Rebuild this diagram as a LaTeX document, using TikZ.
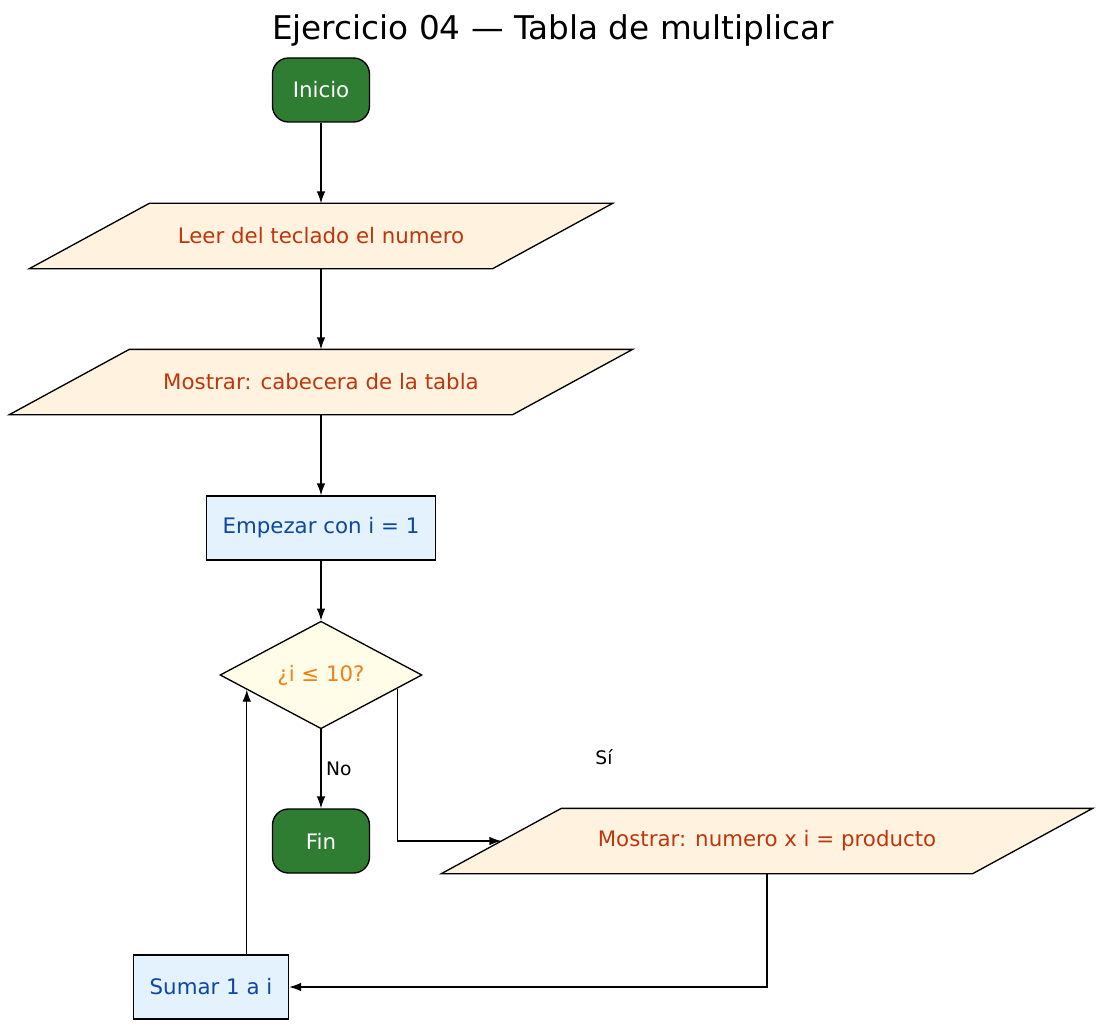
\documentclass[tikz,border=0pt]{standalone}
\usepackage{fontspec}
\setmainfont{DejaVu Sans}
\usetikzlibrary{shapes.geometric, calc, backgrounds, arrows.meta}
\definecolor{termfill}{HTML}{2E7D32}
\definecolor{iofill}{HTML}{FFF3E0}
\definecolor{iotext}{HTML}{BF360C}
\definecolor{procfill}{HTML}{E3F2FD}
\definecolor{proctext}{HTML}{0D47A1}
\definecolor{decfill}{HTML}{FFFDE7}
\definecolor{dectext}{HTML}{F57F17}
\tikzset{
  every path/.style={line width=1pt},
  term/.style={draw, rounded corners=12pt, fill=termfill, text=white, minimum width=72.75pt, minimum height=48pt, font=\fontsize{16}{19}\selectfont},
  io/.style={minimum height=48pt, inner sep=0pt, text=iotext, font=\fontsize{16}{19}\selectfont},
  proc/.style={draw, fill=procfill, text=proctext, minimum height=48pt, font=\fontsize{16}{19}\selectfont},
  dec/.style={draw, diamond, fill=decfill, text=dectext, minimum width=151.5pt, minimum height=48pt, inner sep=0pt, font=\fontsize{16}{19}\selectfont},
  flow/.style={-{Latex[length=9pt,width=6.5pt]}},
  lbl/.style={font=\fontsize{14}{17}\selectfont}
}
\newcommand{\parabox}[1]{%
  \begin{scope}[on background layer]
    \draw[fill=iofill] ($(#1.north west)+(60,0)$) -- ($(#1.north east)+(60,0)$)
      -- ($(#1.south east)+(-60,0)$) -- ($(#1.south west)+(-60,0)$) -- cycle;
  \end{scope}}
\begin{document}
\begin{tikzpicture}[x=0.75pt,y=0.75pt,yscale=-1,xscale=1]
  \useasboundingbox (0,0) rectangle (1107,1027);

  % Title
  \node[font=\fontsize{24.5}{29}\selectfont] (title) at (553,30) {Ejercicio 04 — Tabla de multiplicar};

  % Nodes
  \node[term] (inicio) at (321,90) {Inicio};
  \node[io, minimum width=346.5pt] (leer) at (321,236) {Leer del teclado el numero};
  \parabox{leer}
  \node[io, minimum width=376.5pt] (cabecera) at (321,382) {Mostrar: cabecera de la tabla};
  \parabox{cabecera}
  \node[proc, minimum width=171.75pt] (empezar) at (321,528) {Empezar con i = 1};
  \node[dec] (cond) at (321,675) {¿i ≤ 10?};
  \node[term] (fin) at (321,841) {Fin};
  \node[io, minimum width=397.5pt] (producto) at (767,841) {Mostrar: numero x i = producto};
  \parabox{producto}
  \node[proc, minimum width=116.25pt] (sumar) at (211,987) {Sumar 1 a i};

  \coordinate (condR) at ($(cond.east)!0.25!(cond.south)$);
  \coordinate (condL) at ($(cond.west)!0.27!(cond.south)$);

  % Connectors
  \draw[flow] (inicio) -- (leer);
  \draw[flow] (leer) -- (cabecera);
  \draw[flow] (cabecera) -- (empezar);
  \draw[flow] (empezar) -- (cond);
  \draw[flow] (cond) -- node[lbl, pos=0.5, right=0pt] {No} (fin);
  \draw[flow] (condR) |- (producto.west);
  \node[lbl] (si) at (604,757) {Sí};
  \draw[flow] (producto.south) |- (sumar.east);
  \draw[flow] (sumar.north -| condL) -- (condL);
\end{tikzpicture}
\end{document}
